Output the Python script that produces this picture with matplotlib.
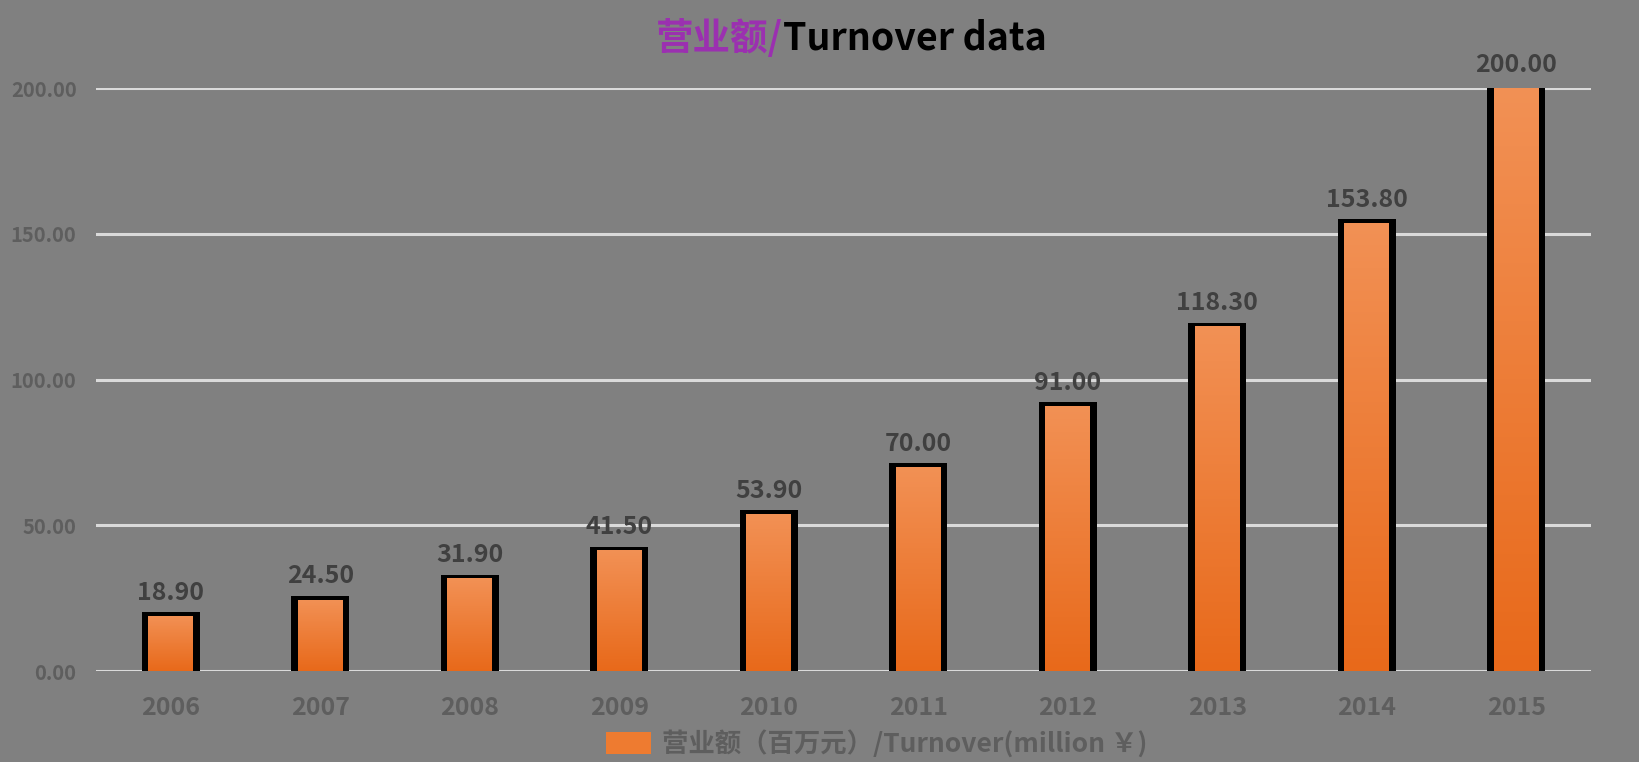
import numpy as np
import matplotlib.pyplot as plt
from matplotlib.patches import Rectangle
from matplotlib.colors import LinearSegmentedColormap

plt.rcParams['font.family'] = ['Noto Sans CJK SC', 'DejaVu Sans']

# 数据
years = ['2006', '2007', '2008', '2009', '2010', '2011', '2012', '2013', '2014', '2015']
turnover = [18.9, 24.5, 31.9, 41.5, 53.9, 70.0, 91.0, 118.3, 153.8, 200.0]
yticks = [0, 50, 100, 150, 200]
legend_label = '营业额（百万元）/Turnover(million ￥)'

bg = '#808080'
fig = plt.figure(figsize=(16.39, 7.62), dpi=100, facecolor=bg)
ax = fig.add_axes([0.0586, 0.1194, 0.9121, 0.7651], facecolor=bg)

x = np.arange(len(years))

# sombra preta atrás das barras
ax.bar(x, [v + 1.2 for v in turnover], width=0.39, color='black', zorder=2)
bars = ax.bar(x, turnover, width=0.30, color='#EE7B30', zorder=3,
              label=legend_label)

# gradiente nas barras
grad = np.linspace(0, 1, 256).reshape(-1, 1)
cmap = LinearSegmentedColormap.from_list('g', ['#E8691A', '#F29155'])
for b in bars:
    x0, w, h = b.get_x(), b.get_width(), b.get_height()
    im = ax.imshow(grad, cmap=cmap, origin='lower', aspect='auto',
                   extent=(x0, x0 + w, 0, h), zorder=4)
    im.set_clip_path(Rectangle((x0, 0), w, h, transform=ax.transData))

for xi, v in zip(x, turnover):
    ax.annotate(f'{v:.2f}', (xi, v), xytext=(0, 8), textcoords='offset points',
                ha='center', va='bottom', fontsize=18, fontweight='bold',
                color='#404040', zorder=5, annotation_clip=False)

ax.set_xlim(-0.5, len(years) - 0.5)
ax.set_ylim(0, 200)
ax.set_yticks(yticks)
ax.set_yticklabels([f'{t:.2f}' for t in yticks], fontsize=14.5,
                   fontweight='bold', color='#5E5E5E')
ax.set_xticks(x)
ax.set_xticklabels(years, fontsize=18, fontweight='bold', color='#5E5E5E')
ax.tick_params(axis='x', length=0, pad=18)
ax.tick_params(axis='y', length=0, pad=14)
for s in ax.spines.values():
    s.set_visible(False)
ax.grid(axis='y', color='#DADADA', linewidth=2.2, zorder=1)
ax.set_axisbelow(True)

# título em duas cores
t1 = fig.text(0.400, 0.935, '营业额/', fontsize=27, fontweight='bold',
              color='#9B30B0', ha='left', va='baseline')
fig.canvas.draw()
ax.annotate('Turnover data', xy=(1, 0), xycoords=t1, fontsize=27,
            fontweight='bold', color='black', ha='left', va='bottom')

leg = fig.legend(handles=[bars], labels=[legend_label], loc='center',
                 bbox_to_anchor=(0.535, 0.024), frameon=False, fontsize=19,
                 handlelength=1.7, handleheight=0.9, handletextpad=0.4)
for txt in leg.get_texts():
    txt.set_color('#5E5E5E')
    txt.set_fontweight('bold')

plt.savefig('out.png', dpi=100, facecolor=bg)
